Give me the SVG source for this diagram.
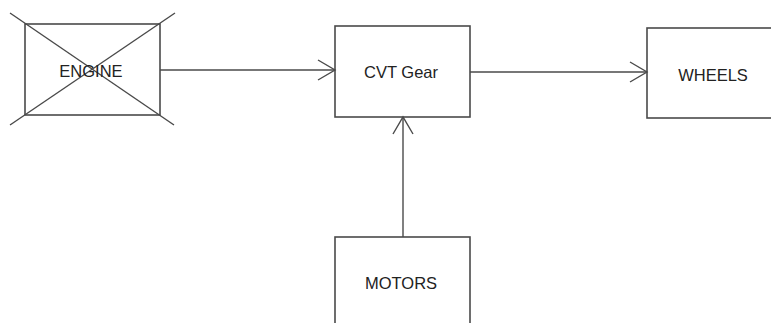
<svg xmlns="http://www.w3.org/2000/svg" width="771" height="323" viewBox="0 0 771 323">
<defs>
<style>
.box{fill:none;stroke:#4a4a4a;stroke-width:1.6}
.ln{fill:none;stroke:#4a4a4a;stroke-width:1.4}
.lbl{font-family:"Liberation Sans",Arial,sans-serif;font-size:16.5px;fill:#222;text-anchor:middle}
</style>
<marker id="arr" viewBox="0 0 20 24" refX="18" refY="12" markerWidth="20" markerHeight="24" markerUnits="userSpaceOnUse" orient="auto">
<path d="M1,2 L18,12 L1,22" fill="none" stroke="#4a4a4a" stroke-width="1.4"/>
</marker>
</defs>
<rect width="771" height="323" fill="#ffffff"/>
<g id="engine">
<rect class="box" x="25" y="24" width="135" height="91"/>
<line class="ln" x1="10" y1="13" x2="174" y2="125"/>
<line class="ln" x1="175" y1="13" x2="10" y2="125"/>
<text class="lbl" x="91" y="77">ENGINE</text>
</g>
<g id="cvt">
<rect class="box" x="335" y="26" width="135" height="91"/>
<text class="lbl" x="401" y="78">CVT Gear</text>
</g>
<g id="wheels">
<rect class="box" x="647" y="28" width="140" height="90"/>
<text class="lbl" x="713" y="81">WHEELS</text>
</g>
<g id="motors">
<rect class="box" x="335" y="237" width="135" height="100"/>
<text class="lbl" x="401" y="289">MOTORS</text>
</g>
<g id="connectors">
<line class="ln" x1="160" y1="70" x2="335" y2="70" marker-end="url(#arr)"/>
<line class="ln" x1="470" y1="72" x2="647" y2="72" marker-end="url(#arr)"/>
<line class="ln" x1="403" y1="237" x2="403" y2="117" marker-end="url(#arr)"/>
</g>
</svg>
